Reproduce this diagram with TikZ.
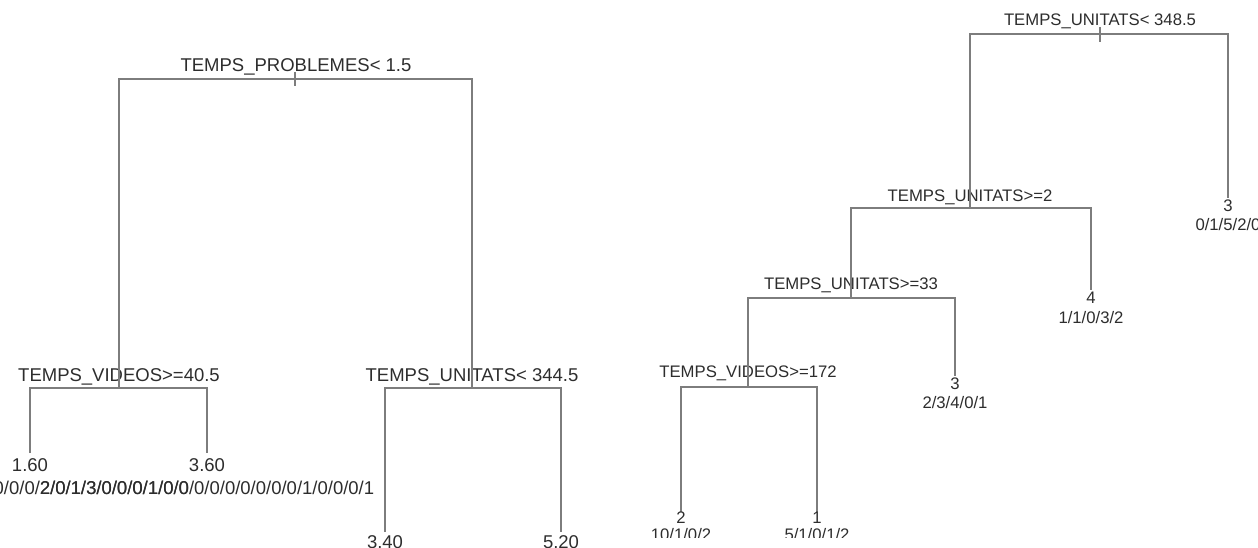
\documentclass[tikz,border=0pt]{standalone}
\usepackage{fontspec}
\setmainfont{Liberation Sans}
\definecolor{edgegray}{RGB}{125,125,125}
\definecolor{txtgray}{RGB}{45,45,45}
\begin{document}
\begin{tikzpicture}[x=1pt,y=-1pt,
  edge/.style={draw=edgegray,line width=1.4pt},
  lbig/.style={text=txtgray,inner sep=0pt,font=\fontsize{18.5}{22}\selectfont},
  lsmall/.style={text=txtgray,inner sep=0pt,font=\fontsize{16.7}{20}\selectfont}]
\useasboundingbox (0,0) rectangle (1258,548);
\clip (0,0) rectangle (1258,548);
% ---------------- left tree ----------------
\coordinate (L0) at (295,79);
\coordinate (L0t) at (295,72);
\coordinate (L0b) at (295,86);
\coordinate (L1) at (119,388);
\coordinate (L2) at (472,388);
\coordinate (L3) at (30,453);
\coordinate (L4) at (207,453);
\coordinate (L5) at (385,532);
\coordinate (L6) at (561,532);
\node[lbig] (s0) at (296,67) {TEMPS\_PROBLEMES< 1.5};
\node[lbig] (s1) at (119,377) {TEMPS\_VIDEOS>=40.5};
\node[lbig] (s2) at (472,377) {TEMPS\_UNITATS< 344.5};
\draw[edge] (L0t) -- (L0b);
\draw[edge] (L1) |- (L0) -| (L2);
\draw[edge] (L3) |- (L1) -| (L4);
\draw[edge] (L5) |- (L2) -| (L6);
\node[lbig] (v3) at (30,465) {1.60};
\node[lbig] (c3) at (22,488) {0/0/0/0/0/0/0/0/0/0/0/0/2/0/1/3/0/0/0/1/0/0};
\node[lbig] (v4) at (207,465) {3.60};
\node[lbig] (c4) at (207,488) {2/0/1/3/0/0/0/1/0/0/0/0/0/0/0/0/0/1/0/0/0/1};
\node[lbig] (v5) at (385,542) {3.40};
\node[lbig] (v6) at (561,542) {5.20};
% ---------------- right tree ----------------
\coordinate (R0) at (1100,34);
\coordinate (R0t) at (1100,27);
\coordinate (R0b) at (1100,42);
\coordinate (R1) at (970,208);
\coordinate (R2) at (1228,198);
\coordinate (R3) at (851,298);
\coordinate (R4) at (1091,290);
\coordinate (R5) at (748,387);
\coordinate (R6) at (955,376);
\coordinate (R7) at (681,512);
\coordinate (R8) at (817,512);
\node[lsmall] (t0) at (1100,21) {TEMPS\_UNITATS< 348.5};
\node[lsmall] (t1) at (970,197) {TEMPS\_UNITATS>=2};
\node[lsmall] (t3) at (851,285) {TEMPS\_UNITATS>=33};
\node[lsmall] (t5) at (748,373) {TEMPS\_VIDEOS>=172};
\draw[edge] (R0t) -- (R0b);
\draw[edge] (R1) |- (R0) -| (R2);
\draw[edge] (R3) |- (R1) -| (R4);
\draw[edge] (R5) |- (R3) -| (R6);
\draw[edge] (R7) |- (R5) -| (R8);
\node[lsmall] (u2) at (1228,206) {3};
\node[lsmall] (w2) at (1228,225) {0/1/5/2/0};
\node[lsmall] (u4) at (1091,298) {4};
\node[lsmall] (w4) at (1091,318) {1/1/0/3/2};
\node[lsmall] (u6) at (955,384) {3};
\node[lsmall] (w6) at (955,403) {2/3/4/0/1};
\begin{scope}
\clip (600,0) rectangle (1258,537);
\node[lsmall] (u7) at (681,518) {2};
\node[lsmall] (w7) at (681,535) {10/1/0/2};
\node[lsmall] (u8) at (817,518) {1};
\node[lsmall] (w8) at (817,535) {5/1/0/1/2};
\end{scope}
\end{tikzpicture}
\end{document}
